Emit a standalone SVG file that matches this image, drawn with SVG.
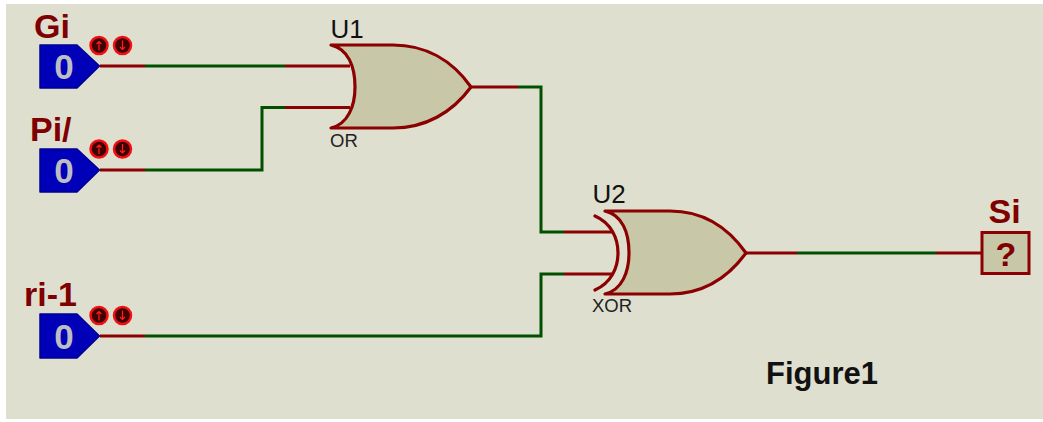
<svg xmlns="http://www.w3.org/2000/svg" width="1043" height="422" viewBox="0 0 1043 422">
<style>
text{font-family:"Liberation Sans",Arial,sans-serif}
.name{font-weight:bold;font-size:34px;fill:#7f0000}
.ref{font-size:26px;fill:#111}
.type{font-size:18.500px;fill:#222}
.val{font-weight:bold;font-size:35px;fill:#bdbdc4;text-anchor:middle}
.r{stroke:#8b0000;stroke-width:3;fill:none}
.g{stroke:#005000;stroke-width:3;fill:none}
.gate{stroke:#8b0000;stroke-width:3.200;fill:#c8c8a8;stroke-linejoin:round}
.arc{stroke:#8b0000;stroke-width:3.200;fill:none;stroke-linecap:round}
.pin{fill:#0000b8;stroke:#000090;stroke-width:1.500;stroke-linejoin:round}
.btn{fill:#400000;stroke:#f01010;stroke-width:2.500}
.ar{stroke:#ff2020;stroke-width:1.200;fill:none}
</style>
<defs>
<g id="toggles">
<circle class="btn" cx="99" cy="0" r="8.500"/>
<path class="ar" d="M99-4V5M96.500-1.500 99-4 101.500-1.500"/>
<circle class="btn" cx="122.500" cy="0" r="8.500"/>
<path class="ar" d="M122.500-5V4M120 1.500 122.500 4 125 1.500"/>
</g>
</defs>
<rect x="6" y="4" width="1037" height="415" fill="#dfdfd0"/>
<g id="connectors">
<path class="r" d="M100 66H145M285 66H350M100 170H145M285 107.500H350M471 87H518M564 232H612M564 274H612M100 336H145M746 253H797M936 253H982"/>
<path class="g" d="M145 66H285M145 170H262V107.500H285M518 87H541V232H564M145 336H541V274H564M797 253H936"/>
</g>
<g id="Gi">
<path class="pin" d="M40 45H77L99.500 66 77 88H40Z"/>
<text class="val" x="64" y="79">0</text>
<text class="name" x="34" y="38">Gi</text>
<use href="#toggles" y="45.500"/>
</g>
<g id="Pi">
<path class="pin" d="M40 149H77L99.500 170 77 192H40Z"/>
<text class="val" x="64" y="183">0</text>
<text class="name" x="30" y="141">Pi/</text>
<use href="#toggles" y="149"/>
</g>
<g id="ri-1">
<path class="pin" d="M40 314H77L99.500 336 77 358H40Z"/>
<text class="val" x="64" y="349">0</text>
<text class="name" x="24" y="306">ri-1</text>
<use href="#toggles" y="315.500"/>
</g>
<g id="U1">
<path class="gate" d="M331 45H393C425 45 452 60 471 87C452 113 425 128 393 128H331C348 124 355 106 355 87C355 66 348 49 331 45Z"/>
<text class="ref" x="330.500" y="38">U1</text>
<text class="type" x="330" y="147">OR</text>
</g>
<g id="U2">
<path class="gate" d="M605 211H670C702 211 727 226 746 253C727 279 702 294 670 294H605C622 290 629 272 629 253C629 232 622 215 605 211Z"/>
<path class="arc" d="M595 216C611 223 618 238 618 253C618 268 611 283 595 290"/>
<text class="ref" x="592.500" y="203">U2</text>
<text class="type" x="592" y="312">XOR</text>
</g>
<g id="Si">
<rect x="982" y="232.500" width="47" height="41" fill="#c8c8a8" stroke="#8b0000" stroke-width="3"/>
<text x="1006" y="266" font-size="34" font-weight="bold" fill="#7f0000" text-anchor="middle">?</text>
<text class="name" x="988.500" y="223">Si</text>
</g>
<text id="caption" x="766" y="384" font-size="31" font-weight="bold" fill="#111">Figure1</text>
</svg>
